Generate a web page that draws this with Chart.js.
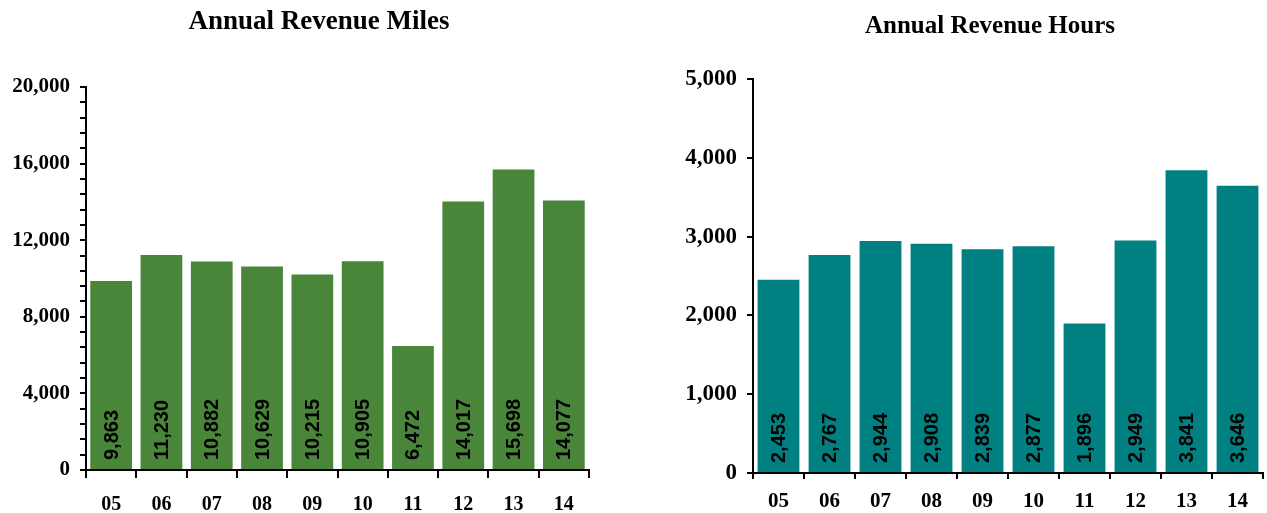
<!DOCTYPE html>
<html>
<head>
<meta charset="utf-8">
<script src="https://cdn.jsdelivr.net/npm/chart.js@4"></script>
<style>
  html, body { margin: 0; padding: 0; background: #fff; overflow: hidden; }
  body { width: 1267px; height: 513px; position: relative; }
  .panel { position: absolute; top: 0; height: 513px; }
  #milesBox { left: 0; width: 634px; }
  #hoursBox { left: 633px; width: 634px; }
</style>
</head>
<body>
<div class="panel" id="milesBox"><canvas id="miles"></canvas></div>
<div class="panel" id="hoursBox"><canvas id="hours"></canvas></div>
<script>
// Fiscal years shown along both x axes
const years = ['05', '06', '07', '08', '09', '10', '11', '12', '13', '14'];

// Annual revenue miles (thousands)
const revenueMiles = [9863, 11230, 10882, 10629, 10215, 10905, 6472, 14017, 15698, 14077];

// Annual revenue hours (thousands)
const revenueHours = [2453, 2767, 2944, 2908, 2839, 2877, 1896, 2949, 3841, 3646];

// Axis settings
const milesMax = 20000, milesMinorStep = 800, milesLabelStep = 4000;
const hoursMax = 5000, hoursStep = 1000;

const SERIF = '"Liberation Serif", "Times New Roman", serif';
const fmt = v => v.toLocaleString('en-US');

// Panel heading, drawn at a fixed centre above the plot
const panelTitle = {
  id: 'panelTitle',
  afterDraw(chart, args, o) {
    const { ctx } = chart;
    ctx.save();
    ctx.fillStyle = '#000';
    ctx.font = `bold ${o.size}px ${SERIF}`;
    ctx.textAlign = 'center';
    ctx.textBaseline = 'alphabetic';
    ctx.fillText(o.text, o.x, o.baseline);
    ctx.restore();
  }
};

// Writes each bar's value vertically, reading upward from the bar's base
const barValueLabels = {
  id: 'barValueLabels',
  afterDatasetsDraw(chart) {
    const { ctx } = chart;
    const meta = chart.getDatasetMeta(0);
    const values = chart.data.datasets[0].data;
    const yScale = chart.scales.y;
    ctx.save();
    ctx.fillStyle = '#000';
    ctx.font = 'bold 20px "Liberation Sans", Arial, sans-serif';
    ctx.textAlign = 'left';
    ctx.textBaseline = 'middle';
    meta.data.forEach((bar, i) => {
      ctx.save();
      ctx.translate(bar.x, yScale.getPixelForValue(0) - 10);
      ctx.rotate(-Math.PI / 2);
      ctx.fillText(fmt(values[i]), 0, 1);
      ctx.restore();
    });
    ctx.restore();
  }
};

function buildChart(id, opts) {
  return new Chart(document.getElementById(id), {
    type: 'bar',
    data: {
      labels: years,
      datasets: [{
        data: opts.values,
        backgroundColor: opts.color,
        borderWidth: 0,
        barPercentage: opts.barPct,
        categoryPercentage: 1
      }]
    },
    options: {
      responsive: true,
      maintainAspectRatio: false,
      animation: false,
      layout: { padding: { top: opts.padTop, right: opts.padRight, bottom: 0, left: 0 } },
      plugins: {
        legend: { display: false },
        tooltip: { enabled: false },
        title: { display: false },
        panelTitle: opts.heading
      },
      scales: {
        x: {
          offset: true,
          grid: { display: true, offset: true, drawOnChartArea: false, drawTicks: true, tickLength: opts.xTick, color: '#000', lineWidth: 2 },
          border: { display: true, color: '#000', width: 2 },
          ticks: { color: '#000', font: { family: SERIF, weight: 'bold', size: opts.xFont }, padding: opts.xPad, maxRotation: 0 },
          afterFit(scale) { scale.height = opts.xHeight; }
        },
        y: {
          min: 0,
          max: opts.max,
          grid: { display: true, drawOnChartArea: false, drawTicks: true, tickLength: 6, color: '#000', lineWidth: 2 },
          border: { display: true, color: '#000', width: 2 },
          ticks: {
            stepSize: opts.step,
            autoSkip: false,
            color: '#000',
            padding: 10,
            font: { family: SERIF, weight: 'bold', size: opts.yFont },
            callback: v => (v % opts.labelStep === 0 ? fmt(v) : '')
          },
          afterFit(scale) { scale.width = opts.yWidth; }
        }
      }
    },
    plugins: [barValueLabels, panelTitle]
  });
}

buildChart('miles', {
  heading: { text: 'Annual Revenue Miles', size: 27, x: 319, baseline: 29 },
  values: revenueMiles, color: '#4a863a', barPct: 0.83,
  max: milesMax, step: milesMinorStep, labelStep: milesLabelStep,
  yWidth: 86, padRight: 45, padTop: 87, xHeight: 43,
  xTick: 8, xPad: 15, xFont: 20, yFont: 21
});

buildChart('hours', {
  heading: { text: 'Annual Revenue Hours', size: 25, x: 357, baseline: 33 },
  values: revenueHours, color: '#008080', barPct: 0.82,
  max: hoursMax, step: hoursStep, labelStep: hoursStep,
  yWidth: 120, padRight: 4, padTop: 79, xHeight: 40,
  xTick: 6, xPad: 10, xFont: 21, yFont: 23
});
</script>
</body>
</html>
